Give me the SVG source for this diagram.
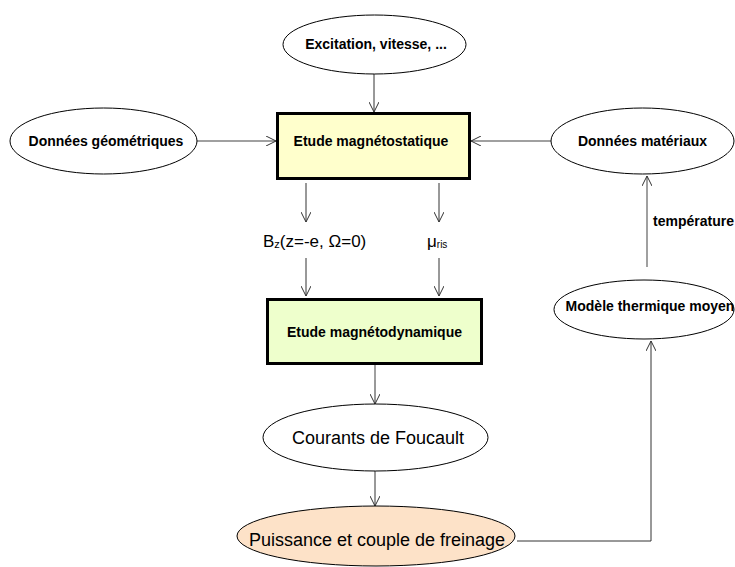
<svg xmlns="http://www.w3.org/2000/svg" width="735" height="567" viewBox="0 0 735 567">
<defs>
<marker id="arr" viewBox="0 0 10 10" refX="10" refY="5" markerWidth="10" markerHeight="10" markerUnits="userSpaceOnUse" orient="auto">
<path d="M0,0 L10,5 L0,10" fill="none" stroke="#333" stroke-width="1"/>
</marker>
</defs>
<style>
.ell{stroke:#000;stroke-width:1}
.box{stroke:#000;stroke-width:3}
.b{font-family:"Liberation Sans",Arial,sans-serif;font-weight:bold;font-size:14px;fill:#000}
.r{font-family:"Liberation Sans",Arial,sans-serif;font-size:18px;fill:#000}
.m{font-family:"Liberation Sans",Arial,sans-serif;font-size:17px;fill:#000}
.c{fill:none;stroke:#333;stroke-width:1}
.g{fill:none;stroke:#808080;stroke-width:1.5}
</style>
<rect width="735" height="567" fill="#fff"/>
<g id="connectors">
<line class="c" x1="374" y1="74" x2="374" y2="112" marker-end="url(#arr)"/>
<line class="g" x1="197" y1="141" x2="276" y2="141" marker-end="url(#arr)"/>
<line class="g" x1="551" y1="141" x2="471" y2="141" marker-end="url(#arr)"/>
<line class="c" x1="306" y1="183" x2="306" y2="222" marker-end="url(#arr)"/>
<line class="c" x1="439" y1="183" x2="439" y2="222" marker-end="url(#arr)"/>
<line class="c" x1="306" y1="258" x2="306" y2="296" marker-end="url(#arr)"/>
<line class="c" x1="439" y1="258" x2="439" y2="296" marker-end="url(#arr)"/>
<line class="g" x1="375" y1="365" x2="375" y2="380"/>
<line class="c" x1="375" y1="380" x2="375" y2="404" marker-end="url(#arr)"/>
<line class="c" x1="375" y1="471" x2="375" y2="506" marker-end="url(#arr)"/>
<polyline class="c" points="517,541 651,541 651,341" marker-end="url(#arr)"/>
<line class="g" x1="647" y1="267" x2="647" y2="176" marker-end="url(#arr)"/>
<text class="b" x="653" y="226">température</text>
<text class="m" x="263" y="247">B<tspan font-size="11" dy="1">z</tspan><tspan dy="-1">(z=-e, Ω=0)</tspan></text>
<text class="m" x="427" y="247">μ<tspan font-size="10" dy="1">ris</tspan></text>
</g>
<g id="excitation">
<ellipse class="ell" cx="374.5" cy="44.5" rx="91.5" ry="29.5" style="fill:#fff"/>
<text class="b" x="376" y="49" text-anchor="middle">Excitation, vitesse, ...</text>
</g>
<g id="geometrie">
<ellipse class="ell" cx="103.5" cy="141" rx="93.5" ry="33" style="fill:#fff"/>
<text class="b" x="106" y="146" text-anchor="middle">Données géométriques</text>
</g>
<g id="magnetostatique">
<rect class="box" x="277.5" y="113.5" width="192" height="65" fill="#ffffcc"/>
<text class="b" x="371" y="146" text-anchor="middle">Etude magnétostatique</text>
</g>
<g id="materiaux">
<ellipse class="ell" cx="642.5" cy="141" rx="91.5" ry="33" style="fill:#fff"/>
<text class="b" x="642.5" y="146" text-anchor="middle">Données matériaux</text>
</g>
<g id="magnetodynamique">
<rect class="box" x="267.5" y="299.5" width="214" height="64" fill="#eeffcc"/>
<text class="b" x="374.5" y="337" text-anchor="middle">Etude magnétodynamique</text>
</g>
<g id="courants">
<ellipse class="ell" cx="375.5" cy="437.5" rx="112.5" ry="33.5" style="fill:#fff"/>
<text class="r" x="378" y="444" text-anchor="middle">Courants de Foucault</text>
</g>
<g id="puissance">
<ellipse class="ell" cx="376" cy="536" rx="139" ry="30" style="fill:#fde2c8"/>
<text class="r" x="377" y="546" text-anchor="middle">Puissance et couple de freinage</text>
</g>
<g id="thermique">
<ellipse class="ell" cx="644" cy="309.5" rx="90" ry="29.5" style="fill:#fff"/>
<text class="b" x="650" y="311" text-anchor="middle">Modèle thermique moyen</text>
</g>
</svg>
